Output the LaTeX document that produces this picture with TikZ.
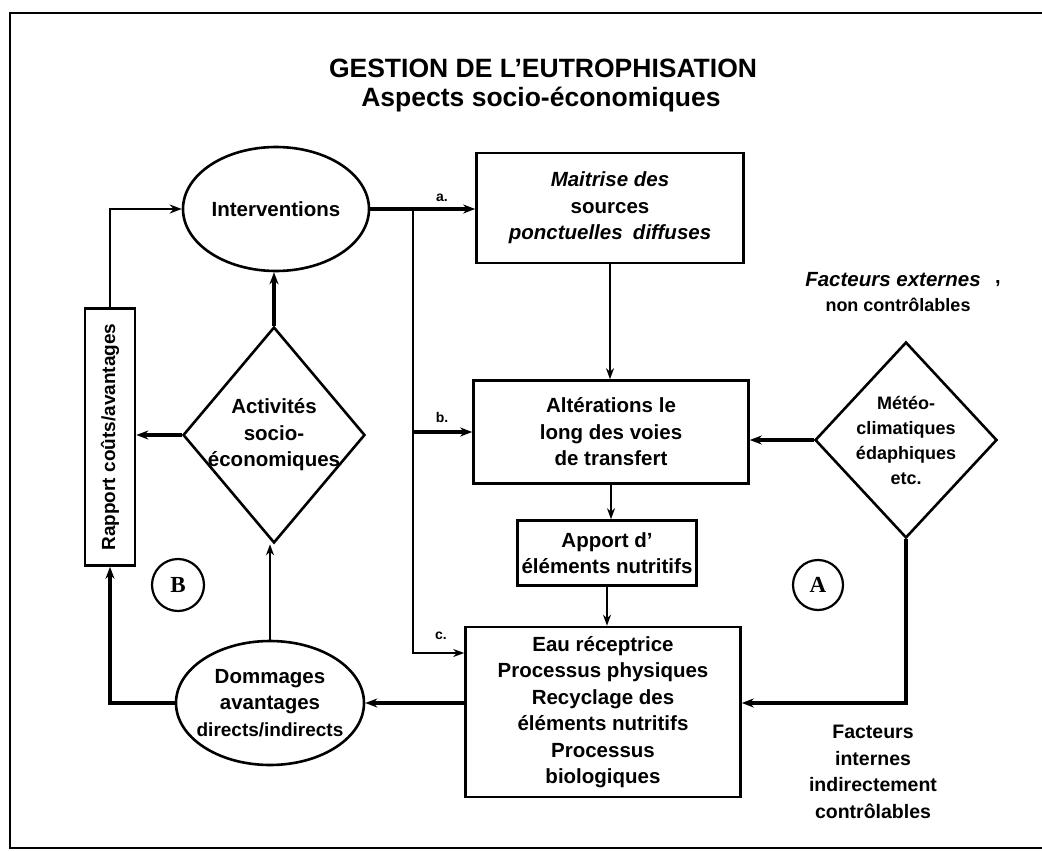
\documentclass[tikz,border=0pt]{standalone}
\usepackage{fontspec}
\setmainfont{Liberation Sans}
\newfontfamily\serifbf{Liberation Serif}
\usetikzlibrary{shapes.geometric,arrows.meta,calc}
\begin{document}
\begin{tikzpicture}[x=1pt,y=-1pt,
  font=\bfseries\fontsize{20.5}{26.5}\selectfont,
  box/.style={draw,line width=2.6pt,rectangle,inner sep=0pt,align=center},
  oval/.style={draw,line width=2.6pt,ellipse,inner sep=0pt},
  losange/.style={draw,line width=2.6pt,diamond,inner sep=0pt},
  ring/.style={draw,line width=2.2pt,circle,inner sep=0pt},
  txt/.style={align=center,inner sep=0pt},
  small/.style={font=\bfseries\fontsize{18}{25}\selectfont},
  tag/.style={font=\bfseries\fontsize{14}{14}\selectfont,inner sep=0pt},
  thickarrow/.style={line width=3.4pt,-{Stealth[length=12pt,width=9pt]}},
  thinarrow/.style={line width=2pt,-{Stealth[length=11pt,width=8pt]}},
  thickline/.style={line width=3.4pt},
  thinline/.style={line width=2pt}]
\useasboundingbox (0,0) rectangle (1042,851);
\draw[line width=2pt] (1050,13) -- (10,13) -- (10,848) -- (1050,848);

% title
\node[txt,font=\bfseries\fontsize{26.5}{30}\selectfont] (t1) at (543,68) {GESTION DE L’EUTROPHISATION};
\node[txt,font=\bfseries\fontsize{26.5}{30}\selectfont] (t2) at (541,100) {Aspects socio-économiques};

% shapes
\node[oval,minimum width=186pt,minimum height=124pt] (interv) at (276,209) {};
\node[txt] at (interv) {Interventions};

\node[box,minimum width=267pt,minimum height=110pt] (maitrise) at (610,208)
  {{\itshape Maitrise des}\\sources\\{\itshape ponctuelles\enspace diffuses}};

\node[box,minimum width=275pt,minimum height=103pt] (alter) at (611,432)
  {Altérations le\\long des voies\\de transfert};

\node[box,minimum width=179pt,minimum height=65pt] (apport) at (607,553)
  {Apport d’\\éléments nutritifs};

\node[box,minimum width=275pt,minimum height=170pt] (eau) at (603,712)
  {Eau réceptrice\\Processus physiques\\Recyclage des\\éléments nutritifs\\Processus\\biologiques};

\node[losange,minimum width=182pt,minimum height=216pt] (activ) at (274,435) {};
\node[txt] at (activ) {Activités\\socio-\\économiques};

\node[losange,minimum width=182pt,minimum height=196pt] (meteo) at (906,440) {};
\node[txt,small] at (meteo) {Météo-\\climatiques\\édaphiques\\etc.};

\node[box,minimum width=50pt,minimum height=257pt] (rapport) at (110,437) {};
\node[txt,rotate=90,font=\bfseries\fontsize{19}{24}\selectfont] at (rapport) {Rapport coûts/avantages};

\node[oval,minimum width=188pt,minimum height=124pt] (dom) at (270,703) {};
\node[txt] at (dom) {Dommages\\avantages\\{\fontsize{19}{25}\selectfont directs/indirects}};

\node[ring,minimum size=52pt] (cB) at (178,585) {\serifbf\bfseries\fontsize{23}{23}\selectfont B};
\node[ring,minimum size=50pt] (cA) at (818,585) {\serifbf\bfseries\fontsize{23}{23}\selectfont A};

% free texts
\node[txt,font=\bfseries\itshape\fontsize{20.5}{26}\selectfont] (fext) at (893,280) {Facteurs externes};
\node[txt,font=\bfseries\fontsize{20}{26}\selectfont] (comma) at (998,284) {,};
\node[txt,small] (nonc) at (898,305) {non contrôlables};
\node[txt,font=\bfseries\fontsize{19.5}{26.7}\selectfont] (fint) at (873,772)
  {Facteurs\\internes\\indirectement\\contrôlables};

% helper coordinates
\coordinate (jx) at (413,0);
\coordinate (cy) at (0,653);

% connectors
\draw[line width=2.6pt,-{Stealth[length=12pt,width=9pt]}] (rapport.north) |- (interv.west);
\draw[thickarrow] (interv.east) -- (maitrise.west |- interv.east);
\node[tag] (la) at (442,198) {a.};
\draw[thinarrow] (interv.east -| jx) |- (eau.west |- cy);
\node[tag] (lc) at (441,636) {c.};
\draw[thickarrow] (jx |- alter.west) -- (alter.west);
\node[tag] (lb) at (442,417) {b.};

\draw[thinarrow] (maitrise.south) -- (maitrise.south |- alter.north);
\draw[thinarrow] (alter.south) -- (alter.south |- apport.north);
\draw[thinarrow] (apport.south) -- (apport.south |- eau.north);

\draw[thickarrow] (meteo.west) -- (meteo.west -| alter.east);
\draw[thickarrow] (meteo.south) |- (eau.east |- dom.east);
\draw[thickarrow] (eau.west |- dom.east) -- (dom.east);
\draw[thickarrow] (dom.west) -| (rapport.south);
\draw[thinarrow] (dom.north) -- (dom.north |- activ.south);
\draw[thickarrow] (activ.north) -- (activ.north |- interv.south);
\draw[thickarrow] (activ.west) -- (activ.west -| rapport.east);
\end{tikzpicture}
\end{document}
